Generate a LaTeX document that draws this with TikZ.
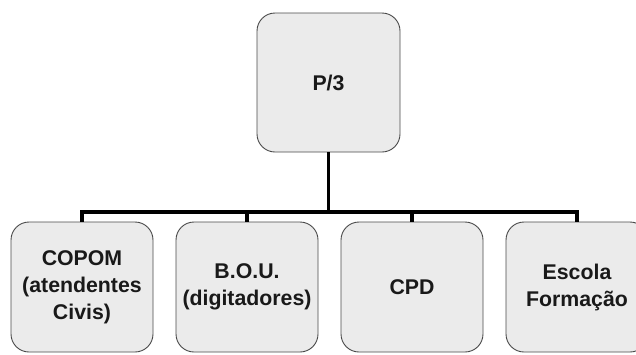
\documentclass[tikz,border=0pt]{standalone}
\usepackage{fontspec}
\setmainfont{Liberation Sans}
\definecolor{boxfill}{HTML}{EBEBEB}
\definecolor{boxline}{HTML}{4A4A4A}
\begin{document}
\begin{tikzpicture}[x=1pt,y=-1pt,
  orgbox/.style={draw=boxline, line width=0.9pt, fill=boxfill, rounded corners=18pt,
    minimum width=142pt, minimum height=130pt, inner sep=0pt, align=center,
    font=\fontsize{21.3}{27}\selectfont\bfseries, text=black!90},
  conn/.style={draw=black, line width=3.2pt}]
\useasboundingbox (0,0) rectangle (636,354);
\fill[white] (0,0) rectangle (636,354);
\node[orgbox, minimum width=143pt, minimum height=139pt] (top) at (328.5,82.5) {P/3};
\node[orgbox] (c1) at (82,287) {COPOM\\(atendentes\\Civis)};
\node[orgbox] (c2) at (247,287) {B.O.U.\\(digitadores)};
\node[orgbox] (c3) at (412,287) {CPD};
\node[orgbox] (c4) at (577,287) {Escola\\Formação};
\coordinate (bus) at (328.5,212);
\draw[conn] (top.south) -- (bus);
\draw[conn] (c1.north) |- (bus) -| (c4.north);
\draw[conn] (c2.north) -- (c2.north |- bus);
\draw[conn] (c3.north) -- (c3.north |- bus);
\end{tikzpicture}
\end{document}
